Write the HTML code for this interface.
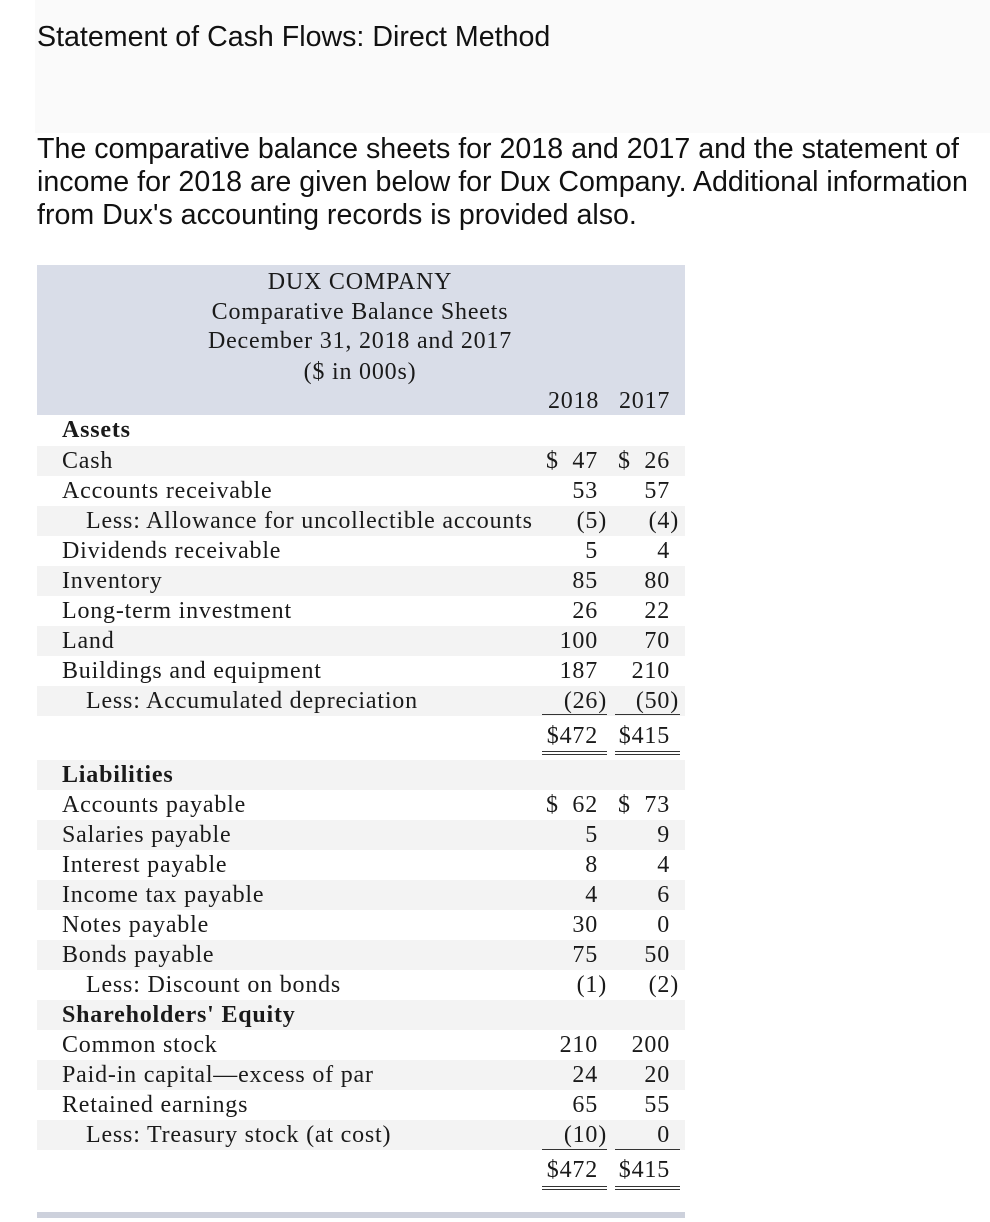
<!DOCTYPE html>
<html><head><meta charset="utf-8"><style>
body{margin:0;width:990px;height:1222px;background:#fff;position:relative;overflow:hidden;color:#222;}
.sans{font-family:"Liberation Sans",Arial,sans-serif;font-size:28.6px;position:absolute;left:37px;color:#111;}
.t{position:absolute;font-family:"Liberation Serif",serif;font-size:24px;letter-spacing:0.8px;color:#1a1a1a;white-space:nowrap;line-height:30px;}
.s{position:absolute;left:37px;width:648px;height:30px;background:#f3f3f3;}
.n{position:absolute;font-family:"Liberation Serif",serif;font-size:24px;letter-spacing:0.8px;color:#1a1a1a;line-height:30px;white-space:nowrap;text-align:right;width:80px;}
.a{left:518px}.b{left:590px}
.hang{margin-right:-9px}
.ul{position:absolute;height:1px;background:#333;}
</style></head><body>
<div style="position:absolute;left:35px;top:0;width:955px;height:133px;background:#fafafa"></div>
<div class="sans" style="top:21px">Statement of Cash Flows: Direct Method</div>
<div class="sans" style="top:133px;line-height:33px">The comparative balance sheets for 2018 and 2017 and the statement of<br>income for 2018 are given below for Dux Company. Additional information<br>from Dux's accounting records is provided also.</div>

<div style="position:absolute;left:37px;top:265px;width:648px;height:150px;background:#d9dde8"></div>
<div class="t" style="left:160px;width:400px;text-align:center;top:267px">DUX COMPANY</div>
<div class="t" style="left:160px;width:400px;text-align:center;top:297px">Comparative Balance Sheets</div>
<div class="t" style="left:160px;width:400px;text-align:center;top:326px">December 31, 2018 and 2017</div>
<div class="t" style="left:160px;width:400px;text-align:center;top:357px">($ in 000s)</div>
<div class="t" style="left:548px;top:386px">2018</div>
<div class="t" style="left:619px;top:386px">2017</div>

<div class="s" style="top:446px"></div>
<div class="s" style="top:506px"></div>
<div class="s" style="top:566px"></div>
<div class="s" style="top:626px"></div>
<div class="s" style="top:686px"></div>
<div class="s" style="top:760px"></div>
<div class="s" style="top:820px"></div>
<div class="s" style="top:880px"></div>
<div class="s" style="top:940px"></div>
<div class="s" style="top:1000px"></div>
<div class="s" style="top:1060px"></div>
<div class="s" style="top:1120px"></div>

<div class="t" style="left:62px;top:415px;font-weight:bold">Assets</div>
<div class="t" style="left:62px;top:446px">Cash</div>
<div class="n a" style="top:446px">$&nbsp;&nbsp;47</div><div class="n b" style="top:446px">$&nbsp;&nbsp;26</div>
<div class="t" style="left:62px;top:476px">Accounts receivable</div>
<div class="n a" style="top:476px">53</div><div class="n b" style="top:476px">57</div>
<div class="t" style="left:86px;top:506px">Less: Allowance for uncollectible accounts</div>
<div class="n a" style="top:506px"><span class="hang">(5)</span></div><div class="n b" style="top:506px"><span class="hang">(4)</span></div>
<div class="t" style="left:62px;top:536px">Dividends receivable</div>
<div class="n a" style="top:536px">5</div><div class="n b" style="top:536px">4</div>
<div class="t" style="left:62px;top:566px">Inventory</div>
<div class="n a" style="top:566px">85</div><div class="n b" style="top:566px">80</div>
<div class="t" style="left:62px;top:596px">Long-term investment</div>
<div class="n a" style="top:596px">26</div><div class="n b" style="top:596px">22</div>
<div class="t" style="left:62px;top:626px">Land</div>
<div class="n a" style="top:626px">100</div><div class="n b" style="top:626px">70</div>
<div class="t" style="left:62px;top:656px">Buildings and equipment</div>
<div class="n a" style="top:656px">187</div><div class="n b" style="top:656px">210</div>
<div class="t" style="left:86px;top:686px">Less: Accumulated depreciation</div>
<div class="n a" style="top:686px"><span class="hang">(26)</span></div><div class="n b" style="top:686px"><span class="hang">(50)</span></div>
<div class="ul" style="left:542px;top:714px;width:65px"></div><div class="ul" style="left:615px;top:714px;width:65px"></div>
<div class="n a" style="top:721px">$472</div><div class="n b" style="top:721px">$415</div>
<div class="ul" style="left:542px;top:751px;width:65px"></div><div class="ul" style="left:615px;top:751px;width:65px"></div>
<div class="ul" style="left:542px;top:754px;width:65px"></div><div class="ul" style="left:615px;top:754px;width:65px"></div>

<div class="t" style="left:62px;top:760px;font-weight:bold">Liabilities</div>
<div class="t" style="left:62px;top:790px">Accounts payable</div>
<div class="n a" style="top:790px">$&nbsp;&nbsp;62</div><div class="n b" style="top:790px">$&nbsp;&nbsp;73</div>
<div class="t" style="left:62px;top:820px">Salaries payable</div>
<div class="n a" style="top:820px">5</div><div class="n b" style="top:820px">9</div>
<div class="t" style="left:62px;top:850px">Interest payable</div>
<div class="n a" style="top:850px">8</div><div class="n b" style="top:850px">4</div>
<div class="t" style="left:62px;top:880px">Income tax payable</div>
<div class="n a" style="top:880px">4</div><div class="n b" style="top:880px">6</div>
<div class="t" style="left:62px;top:910px">Notes payable</div>
<div class="n a" style="top:910px">30</div><div class="n b" style="top:910px">0</div>
<div class="t" style="left:62px;top:940px">Bonds payable</div>
<div class="n a" style="top:940px">75</div><div class="n b" style="top:940px">50</div>
<div class="t" style="left:86px;top:970px">Less: Discount on bonds</div>
<div class="n a" style="top:970px"><span class="hang">(1)</span></div><div class="n b" style="top:970px"><span class="hang">(2)</span></div>
<div class="t" style="left:62px;top:1000px;font-weight:bold">Shareholders' Equity</div>
<div class="t" style="left:62px;top:1030px">Common stock</div>
<div class="n a" style="top:1030px">210</div><div class="n b" style="top:1030px">200</div>
<div class="t" style="left:62px;top:1060px">Paid-in capital—excess of par</div>
<div class="n a" style="top:1060px">24</div><div class="n b" style="top:1060px">20</div>
<div class="t" style="left:62px;top:1090px">Retained earnings</div>
<div class="n a" style="top:1090px">65</div><div class="n b" style="top:1090px">55</div>
<div class="t" style="left:86px;top:1120px">Less: Treasury stock (at cost)</div>
<div class="n a" style="top:1120px"><span class="hang">(10)</span></div><div class="n b" style="top:1120px">0</div>
<div class="ul" style="left:542px;top:1149px;width:65px"></div><div class="ul" style="left:615px;top:1149px;width:65px"></div>
<div class="n a" style="top:1155px">$472</div><div class="n b" style="top:1155px">$415</div>
<div class="ul" style="left:542px;top:1186px;width:65px"></div><div class="ul" style="left:615px;top:1186px;width:65px"></div>
<div class="ul" style="left:542px;top:1189px;width:65px"></div><div class="ul" style="left:615px;top:1189px;width:65px"></div>

<div style="position:absolute;left:37px;top:1212px;width:648px;height:6px;background:#cdd1dc"></div>
</body></html>
